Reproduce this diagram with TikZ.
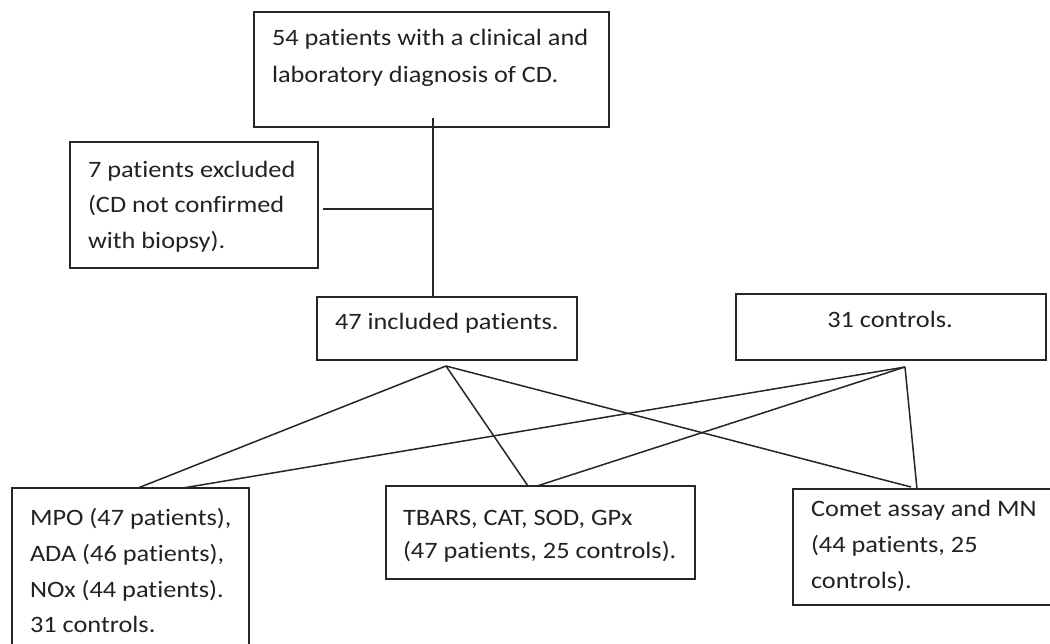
\documentclass[tikz,border=0pt]{standalone}
\usepackage{fontspec}
\setmainfont[FakeStretch=1.12,Ligatures=NoCommon]{Carlito}
\begin{document}
\begin{tikzpicture}[x=1pt,y=-1pt,
  box/.style={draw=linec, line width=1.6pt, fill=none, inner sep=0pt, outer sep=0pt},
  conn/.style={draw=linec, line width=1.5pt},
  txt/.style={inner sep=0pt, outer sep=0pt, text=textc, font=\fontsize{23.5pt}{35pt}\selectfont}]
\definecolor{linec}{HTML}{262626}
\definecolor{textc}{HTML}{222222}
\clip (0,0) rectangle (1050,643);
\fill[white] (0,0) rectangle (1050,643);
% boxes
\node[box, minimum width=355pt, minimum height=115pt] (top) at (431.5,69.5) {};
\node[box, minimum width=248pt, minimum height=126pt] (excl) at (194,205) {};
\node[box, minimum width=260pt, minimum height=63pt] (incl) at (447,328.5) {};
\node[box, minimum width=310pt, minimum height=66pt] (ctrl) at (891,327) {};
\node[box, minimum width=237pt, minimum height=212pt] (mpo) at (130.5,594) {};
\node[box, minimum width=309pt, minimum height=93pt] (tbars) at (540.5,532.5) {};
\node[box, minimum width=262pt, minimum height=116pt] (comet) at (924,547) {};
% texts
\node[txt, anchor=base west] (t1) at (272,45) {54 patients with a clinical and};
\node[txt, anchor=base west] (t2) at (272,82) {laboratory diagnosis of CD.};
\node[txt, anchor=base west] (e1) at (88,177) {7 patients excluded};
\node[txt, anchor=base west] (e2) at (88,212) {(CD not confirmed};
\node[txt, anchor=base west] (e3) at (88,248) {with biopsy).};
\node[txt, anchor=base west] (i1) at (335,329) {47 included patients.};
\node[txt, anchor=base] (c1) at (890,327) {31 controls.};
\node[txt, anchor=base west] (m1) at (30,525) {MPO (47 patients),};
\node[txt, anchor=base west] (m2) at (30,561) {ADA (46 patients),};
\node[txt, anchor=base west] (m3) at (30,597) {NOx (44 patients).};
\node[txt, anchor=base west] (m4) at (30,632) {31 controls.};
\node[txt, anchor=base west] (b1) at (403,525) {TBARS, CAT, SOD, GPx};
\node[txt, anchor=base west] (b2) at (403,558) {(47 patients, 25 controls).};
\node[txt, anchor=base west] (k1) at (811,516) {Comet assay and MN};
\node[txt, anchor=base west] (k2) at (811,552) {(44 patients, 25};
\node[txt, anchor=base west] (k3) at (811,588) {controls).};
% connector points
\coordinate (vs) at (433,118);
\coordinate (vj) at (433,209);
\coordinate (ve) at (433,297);
\coordinate (hx) at (323,209);
\coordinate (A) at (446,366);
\coordinate (B) at (905,367);
\coordinate (mA) at (138,488);
\coordinate (mB) at (183,488);
\coordinate (tA) at (528,486);
\coordinate (tB) at (537,486);
\coordinate (cA) at (911,487);
\coordinate (cB) at (917,489);
% connectors
\draw[conn] (vs) -- (vj) -- (ve);
\draw[conn] (hx) -- (vj);
\draw[conn] (A) -- (mA);
\draw[conn] (A) -- (tA);
\draw[conn] (A) -- (cA);
\draw[conn] (B) -- (mB);
\draw[conn] (B) -- (tB);
\draw[conn] (B) -- (cB);
\end{tikzpicture}
\end{document}
